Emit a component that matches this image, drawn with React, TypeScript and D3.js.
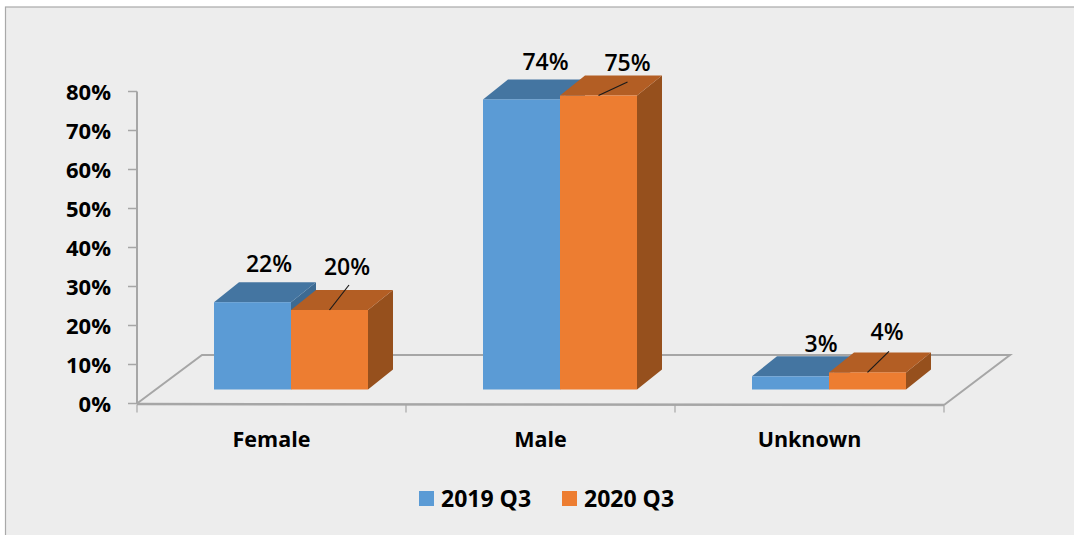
import React from 'react';
import * as d3 from 'd3';

const categories = ['Female', 'Male', 'Unknown'];
const seriesNames = ['2019 Q3', '2020 Q3'];
const values2019 = [22, 74, 3];
const values2020 = [20, 75, 4];
const yTicks = [0, 10, 20, 30, 40, 50, 60, 70, 80];
const frontColors = ['#5b9bd5', '#ed7d31'];
const topColors = ['#4475a1', '#b35e24'];
const sideColors = ['#3d6a92', '#96501d'];

const FONT = '"Open Sans", sans-serif';
const GREY = '#a6a6a6';
const INK = '#000';

// oblique offsets of the fake 3D box
const floorDx = 65;
const floorDy = -48.5;
const barDx = 25;
const barDy = -20;
const barBase = 389.5;
const barShift = 19.5;
const barLift = 1.5;

// hand placed data labels, [dx, dy] from the top-front-centre of each bar
const labelOffsets = [
  [[16.5, -30], [17.5, -35]],
  [[24, -29.5], [29, -24.5]],
  [[30.5, -24], [19.5, -32.5]],
];
// leader line end, relative to top-front-centre (null = no leader)
const leaderEnds = [
  [null, [19.5, -25]],
  [null, [29, -13.5]],
  [null, [21.5, -21]],
];

const x = d3.scaleBand<string>().domain(categories).range([137, 944]);
const y = d3.scaleLinear().domain([0, 80]).range([403.5, 91.5]);
const barTop = (v: number) => barBase - barLift - (y(0) - y(v));

function Bar({ x0, w, v, s }: { x0: number; w: number; v: number; s: number }) {
  const top = barTop(v);
  const x1 = x0 + w;
  const topPath = d3.path();
  topPath.moveTo(x0, top);
  topPath.lineTo(x0 + barDx, top + barDy);
  topPath.lineTo(x1 + barDx, top + barDy);
  topPath.lineTo(x1, top);
  topPath.closePath();
  const sidePath = d3.path();
  sidePath.moveTo(x1, top);
  sidePath.lineTo(x1 + barDx, top + barDy);
  sidePath.lineTo(x1 + barDx, barBase + barDy);
  sidePath.lineTo(x1, barBase);
  sidePath.closePath();
  return (
    <g>
      <path d={sidePath.toString()} fill={sideColors[s]} />
      <path d={topPath.toString()} fill={topColors[s]} />
      <rect x={x0} y={top} width={w} height={barBase - top} fill={frontColors[s]} />
    </g>
  );
}

export default function App() {
  const w = 77;
  const series = [values2019, values2020];
  const x0 = y(0);
  const xEnd = x.range()[1];
  return (
    <svg
      width={1074}
      height={535}
      style={{ position: 'absolute', left: 0, top: 0, background: '#fff' }}
      fontFamily={FONT}
    >
      <rect x={5.5} y={7} width={1080} height={540} fill="#ededed" stroke="#a9a9a9" strokeWidth={1.2} />

      {/* floor */}
      <g fill="none" stroke={GREY} strokeWidth={2}>
        <path d={`M137,${x0}L${137 + floorDx},${x0 + floorDy}L${xEnd + floorDx + 1},${x0 + floorDy}L${xEnd},${x0 + 1.5}`} />
        <path d={`M137,${x0 + 0.5}L${xEnd},${x0 + 1.5}`} strokeWidth={2.5} />
        <path d={`M137,${y(80)}V${x0}`} />
      </g>

      {/* axes ticks */}
      {yTicks.map(t => (
        <g key={t}>
          <line x1={128} x2={137} y1={y(t)} y2={y(t)} stroke={GREY} strokeWidth={1.5} />
          <text x={111} y={y(t) + 8.5} textAnchor="end" fontSize={22} fontWeight={700} fill={INK}>
            {t}%
          </text>
        </g>
      ))}
      {[...categories.map(c => x(c)!), xEnd].map(t => (
        <line key={t} x1={t} x2={t} y1={x0 + 1} y2={x0 + 9} stroke={GREY} strokeWidth={1.2} />
      ))}
      {categories.map(c => (
        <text
          key={c}
          x={x(c)! + x.bandwidth() / 2}
          y={447}
          textAnchor="middle"
          fontSize={21.5}
          fontWeight={700}
          fill={INK}
        >
          {c}
        </text>
      ))}

      {/* bars */}
      {categories.map((c, i) => {
        const left = x(c)! + x.bandwidth() / 2 + barShift - w;
        return (
          <g key={c}>
            <Bar x0={left} w={w} v={series[0][i]} s={0} />
            <Bar x0={left + w} w={w} v={series[1][i]} s={1} />
          </g>
        );
      })}

      {/* data labels */}
      {categories.map((c, i) => {
        const left = x(c)! + x.bandwidth() / 2 + barShift - w;
        return series.map((vals, s) => {
          const cx = left + w * s + w / 2;
          const top = barTop(vals[i]);
          const [dx, dy] = labelOffsets[i][s];
          const end = leaderEnds[i][s];
          return (
            <g key={`${c}-${s}`}>
              {end && <line x1={cx} y1={top} x2={cx + end[0]} y2={top + end[1]} stroke="#1a1a1a" strokeWidth={1.2} />}
              <text x={cx + dx} y={top + dy} textAnchor="middle" fontSize={23} fontWeight={600} fill={INK}>
                {vals[i]}%
              </text>
            </g>
          );
        });
      })}

      {/* legend */}
      {seriesNames.map((name, s) => (
        <g key={name}>
          <rect x={419 + s * 143} y={491} width={15} height={15} fill={frontColors[s]} />
          <text x={441 + s * 143} y={507} fontSize={23} fontWeight={700} fill={INK}>
            {name}
          </text>
        </g>
      ))}
    </svg>
  );
}
